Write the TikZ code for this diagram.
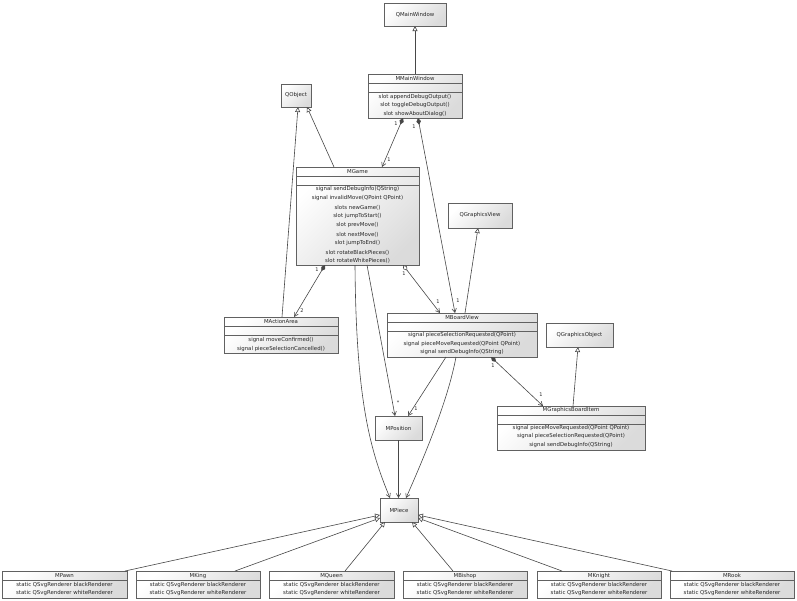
\documentclass[tikz,border=0pt]{standalone}
\usepackage{fontspec}
\setmainfont{DejaVu Sans}
\usetikzlibrary{arrows.meta,shadows,calc}
\begin{document}
\begin{tikzpicture}[x=1pt,y=-1pt,
  cls/.style 2 args={draw=black!62, line width=0.6pt, left color=white, right color=black!14, shading angle=45,
    drop shadow={shadow xshift=1.3pt, shadow yshift=-1.3pt, opacity=0.3},
    inner sep=0, outer sep=0, anchor=north west, minimum width=#1, minimum height=#2},
  sep/.style={draw=black!62, line width=0.5pt},
  t/.style={font=\fontsize{5.4}{6}\selectfont, inner sep=0, text=black!85},
  lab/.style={font=\fontsize{5}{6}\selectfont, inner sep=0, text=black!85},
  ln/.style={draw=black!72, line width=0.6pt},
  gen/.style={ln, -{Triangle[open, length=5pt, width=5pt, fill=white]}},
  assoc/.style={ln, -{Straight Barb[length=4pt, width=4.5pt]}},
  comp/.style={ln, {Diamond[length=7pt, width=4.5pt]}-{Straight Barb[length=4pt, width=4.5pt]}},
  aggr/.style={ln, {Diamond[open, fill=white, length=7pt, width=4.5pt]}-{Straight Barb[length=4pt, width=4.5pt]}}
]
\useasboundingbox (0,0) rectangle (797,600);

% ---------- class boxes ----------
\node[cls={62pt}{23pt}] (qmainwindow) at (384,3) {};
\node[t] (qmainwindow-n) at (qmainwindow.center) {QMainWindow};

\node[cls={94pt}{44pt}] (mmainwindow) at (368,74) {};
\draw[sep] ([yshift=-9pt]mmainwindow.north west) -- ([yshift=-9pt]mmainwindow.north east);
\draw[sep] ([yshift=-18pt]mmainwindow.north west) -- ([yshift=-18pt]mmainwindow.north east);
\node[t] (mmw-n) at (415,78.5) {MMainWindow};
\node[t] (mmw-1) at (415,97) {slot appendDebugOutput()};
\node[t] (mmw-2) at (415,105.5) {slot toggleDebugOutput()};
\node[t] (mmw-3) at (415,114) {slot showAboutDialog()};

\node[cls={30pt}{23pt}] (qobject) at (281,84) {};
\node[t] (qobject-n) at (qobject.center) {QObject};

\node[cls={123pt}{98pt}] (mgame) at (296,167) {};
\draw[sep] ([yshift=-9pt]mgame.north west) -- ([yshift=-9pt]mgame.north east);
\draw[sep] ([yshift=-18pt]mgame.north west) -- ([yshift=-18pt]mgame.north east);
\node[t] (mg-n) at (357.5,171.5) {MGame};
\node[t] (mg-1) at (357.5,189.5) {signal sendDebugInfo(QString)};
\node[t] (mg-2) at (357.5,198.5) {signal invalidMove(QPoint QPoint)};
\node[t] (mg-3) at (357.5,207.5) {slots newGame()};
\node[t] (mg-4) at (357.5,216.5) {slot jumpToStart()};
\node[t] (mg-5) at (357.5,225.5) {slot prevMove()};
\node[t] (mg-6) at (357.5,234.5) {slot nextMove()};
\node[t] (mg-7) at (357.5,243.5) {slot jumpToEnd()};
\node[t] (mg-8) at (357.5,252.5) {slot rotateBlackPieces()};
\node[t] (mg-9) at (357.5,261) {slot rotateWhitePieces()};

\node[cls={64pt}{25pt}] (qgraphicsview) at (448,203) {};
\node[t] (qgv-n) at (qgraphicsview.center) {QGraphicsView};

\node[cls={114pt}{36pt}] (mactionarea) at (224,317) {};
\draw[sep] ([yshift=-9pt]mactionarea.north west) -- ([yshift=-9pt]mactionarea.north east);
\draw[sep] ([yshift=-18pt]mactionarea.north west) -- ([yshift=-18pt]mactionarea.north east);
\node[t] (ma-n) at (281,321.5) {MActionArea};
\node[t] (ma-1) at (281,340) {signal moveConfirmed()};
\node[t] (ma-2) at (281,349) {signal pieceSelectionCancelled()};

\node[cls={150pt}{44pt}] (mboardview) at (387,313) {};
\draw[sep] ([yshift=-9pt]mboardview.north west) -- ([yshift=-9pt]mboardview.north east);
\draw[sep] ([yshift=-18pt]mboardview.north west) -- ([yshift=-18pt]mboardview.north east);
\node[t] (mbv-n) at (462,317.5) {MBoardView};
\node[t] (mbv-1) at (462,335.5) {signal pieceSelectionRequested(QPoint)};
\node[t] (mbv-2) at (462,344) {signal pieceMoveRequested(QPoint QPoint)};
\node[t] (mbv-3) at (462,352.5) {signal sendDebugInfo(QString)};

\node[cls={67pt}{24pt}] (qgraphicsobject) at (546,323) {};
\node[t] (qgo-n) at (qgraphicsobject.center) {QGraphicsObject};

\node[cls={148pt}{44pt}] (mgraphicsboarditem) at (497,406) {};
\draw[sep] ([yshift=-9pt]mgraphicsboarditem.north west) -- ([yshift=-9pt]mgraphicsboarditem.north east);
\draw[sep] ([yshift=-18pt]mgraphicsboarditem.north west) -- ([yshift=-18pt]mgraphicsboarditem.north east);
\node[t] (mgbi-n) at (571,410.5) {MGraphicsBoardItem};
\node[t] (mgbi-1) at (571,428) {signal pieceMoveRequested(QPoint QPoint)};
\node[t] (mgbi-2) at (571,436.5) {signal pieceSelectionRequested(QPoint)};
\node[t] (mgbi-3) at (571,445.5) {signal sendDebugInfo(QString)};

\node[cls={47pt}{24pt}] (mposition) at (375,416) {};
\node[t] (mpos-n) at (mposition.center) {MPosition};

\node[cls={38pt}{24pt}] (mpiece) at (380,498) {};
\node[t] (mpiece-n) at (mpiece.center) {MPiece};

% bottom row
\foreach \nm/\lbl/\x/\w in {mpawn/MPawn/2/125, mking/MKing/136/124, mqueen/MQueen/269/125,
                           mbishop/MBishop/403/124, mknight/MKnight/537/124, mrook/MRook/670/124}{
  \node[cls={\w pt}{27pt}] (\nm) at (\x,571) {};
  \draw[sep] ([yshift=-9pt]\nm.north west) -- ([yshift=-9pt]\nm.north east);
  \node[t] (\nm-n) at ([yshift=-4.5pt]\nm.north) {\lbl};
  \node[t] (\nm-1) at ([yshift=-13.5pt]\nm.north) {static QSvgRenderer blackRenderer};
  \node[t] (\nm-2) at ([yshift=-22pt]\nm.north) {static QSvgRenderer whiteRenderer};
}

% ---------- connectors ----------
\draw[gen] (mmainwindow.north) -- (mmainwindow.north |- qmainwindow.south);
\draw[gen] ([xshift=38pt]mgame.north west) -- ([xshift=26pt]qobject.south west);
\draw[gen] ([xshift=58pt]mactionarea.north west) -- ([xshift=17pt]qobject.south west);

\draw[comp] ([xshift=35pt]mmainwindow.south west) -- ([xshift=86pt]mgame.north west);
\node[lab] (l-a1) at (396,124) {1};
\node[lab] (l-a2) at (389,160) {1};

\draw[comp] ([xshift=50pt]mmainwindow.south west) -- ([xshift=68pt]mboardview.north west);
\node[lab] (l-b1) at (414,127) {1};
\node[lab] (l-b2) at (458,301) {1};

\draw[gen] ([xshift=78pt]mboardview.north west) -- ([xshift=30pt]qgraphicsview.south west);

\draw[comp] ([xshift=29pt]mgame.south west) -- ([xshift=70pt]mactionarea.north west);
\node[lab] (l-c1) at (317,270) {1};
\node[lab] (l-c2) at (302,311) {2};

\draw[aggr] ([xshift=107pt]mgame.south west) -- ([xshift=53pt]mboardview.north west);
\node[lab] (l-d1) at (404,274) {1};
\node[lab] (l-d2) at (438,302) {1};

\draw[comp] ([xshift=104pt]mboardview.south west) -- ([xshift=46pt]mgraphicsboarditem.north west);
\node[lab] (l-e1) at (493,366) {1};
\node[lab] (l-e2) at (541,395) {1};

\draw[gen] ([xshift=76pt]mgraphicsboarditem.north west) -- ([xshift=32pt]qgraphicsobject.south west);

\draw[assoc] ([xshift=59pt]mboardview.south west) -- ([xshift=33pt]mposition.north west);
\node[lab] (l-f1) at (416,409) {1};

\draw[assoc] ([xshift=71pt]mgame.south west) -- ([xshift=20pt]mposition.north west);
\node[lab] (l-g1) at (398,403) {*};

\draw[assoc] ([xshift=59pt]mgame.south west) .. controls (356,400) and (370,450) .. ([xshift=10pt]mpiece.north west);
\draw[assoc] ([xshift=69pt]mboardview.south west) .. controls (448,400) and (425,455) .. ([xshift=26pt]mpiece.north west);
\draw[assoc] (mposition.south) -- (mposition.south |- mpiece.north);

\draw[gen] ([xshift=123pt]mpawn.north west) -- ([yshift=-17pt]mpiece.north west);
\draw[gen] ([xshift=99pt]mking.north west) -- ([yshift=-20pt]mpiece.north west);
\draw[gen] ([xshift=76pt]mqueen.north west) -- ([xshift=5pt]mpiece.south west);
\draw[gen] ([xshift=50pt]mbishop.north west) -- ([xshift=32pt]mpiece.south west);
\draw[gen] ([xshift=25pt]mknight.north west) -- ([yshift=-20pt]mpiece.north east);
\draw[gen] ([xshift=2pt]mrook.north west) -- ([yshift=-17pt]mpiece.north east);

\end{tikzpicture}
\end{document}
